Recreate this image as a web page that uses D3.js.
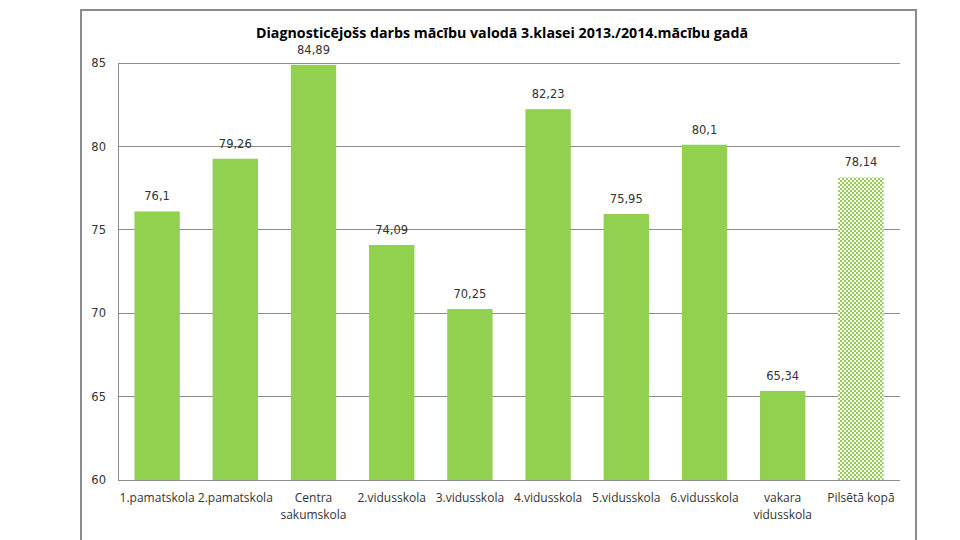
<!DOCTYPE html>
<html><head><meta charset="utf-8">
<script src="https://cdn.jsdelivr.net/npm/d3@7"></script>
<style>body{margin:0;background:#fff}</style>
</head><body>
<script>
const categories = ["1.pamatskola","2.pamatskola","Centra\nsakumskola","2.vidusskola","3.vidusskola","4.vidusskola","5.vidusskola","6.vidusskola","vakara\nvidusskola","Pilsētā kopā"];
const values = [76.1, 79.26, 84.89, 74.09, 70.25, 82.23, 75.95, 80.1, 65.34, 78.14];
const valueLabels = ["76,1","79,26","84,89","74,09","70,25","82,23","75,95","80,1","65,34","78,14"];
const yTicks = [60,65,70,75,80,85];
const title = "Diagnosticējošs darbs mācību valodā 3.klasei 2013./2014.mācību gadā";

const W=960,H=540;
const svg=d3.select("body").append("svg").attr("width",W).attr("height",H);
const defs=svg.append("defs");
const pat=defs.append("pattern").attr("id","chk").attr("width",4).attr("height",4).attr("patternUnits","userSpaceOnUse");
pat.append("rect").attr("width",4).attr("height",4).attr("fill","#ffffff");
pat.append("rect").attr("width",2).attr("height",2).attr("fill","#92D050");
pat.append("rect").attr("x",2).attr("y",2).attr("width",2).attr("height",2).attr("fill","#92D050");

svg.append("rect").attr("x",81).attr("y",10).attr("width",835).attr("height",540).attr("fill","none").attr("stroke","#8c8c8c").attr("stroke-width",2);

const x=d3.scaleBand().domain(categories).range([118,900]).paddingInner(0.42).paddingOuter(0.21);
const y=d3.scaleLinear().domain([60,85]).range([480,63]);

svg.append("g").selectAll("line").data(yTicks).join("line")
  .attr("x1",118).attr("x2",900).attr("y1",d=>y(d)).attr("y2",d=>y(d))
  .attr("stroke","#8c8c8c").attr("stroke-width",1).attr("shape-rendering","crispEdges");
svg.append("line").attr("x1",118).attr("x2",118).attr("y1",y(85)).attr("y2",y(60)).attr("stroke","#8c8c8c").attr("shape-rendering","crispEdges");

const yAxis=d3.axisLeft(y).tickValues(yTicks).tickSize(0).tickPadding(12).tickFormat(d3.format("d"));
const ga=svg.append("g").attr("transform","translate(118,0)").call(yAxis);
ga.select(".domain").remove();
ga.selectAll("text").attr("font-family","Verdana, DejaVu Sans, sans-serif").attr("font-size",11.5).attr("fill","#333");

svg.append("g").selectAll("rect").data(values).join("rect")
  .attr("x",(d,i)=>x(categories[i])).attr("width",x.bandwidth())
  .attr("y",d=>y(d)).attr("height",d=>y(60)-y(d))
  .attr("fill",(d,i)=>i===values.length-1?"url(#chk)":"#92D050");

svg.append("g").selectAll("text").data(values).join("text")
  .attr("x",(d,i)=>x(categories[i])+x.bandwidth()/2).attr("y",d=>y(d)-11)
  .attr("text-anchor","middle").attr("font-family","Verdana, DejaVu Sans, sans-serif").attr("font-size",11.5).attr("fill","#333")
  .text((d,i)=>valueLabels[i]);

const cg=svg.append("g");
categories.forEach((c,i)=>{
  const t=cg.append("text").attr("x",x(c)+x.bandwidth()/2).attr("y",502).attr("text-anchor","middle")
   .attr("font-family","Open Sans, sans-serif").attr("font-size",12).attr("fill","#333");
  c.split("\n").forEach((ln,j)=>t.append("tspan").attr("x",x(c)+x.bandwidth()/2).attr("dy",j?17:0).text(ln));
});

svg.append("text").attr("x",502).attr("y",38).attr("text-anchor","middle")
 .attr("font-family","Open Sans, sans-serif").attr("font-weight","bold").attr("font-size",14.5).attr("fill","#000")
 .attr("textLength",492).attr("lengthAdjust","spacingAndGlyphs").text(title);
</script>
</body></html>
